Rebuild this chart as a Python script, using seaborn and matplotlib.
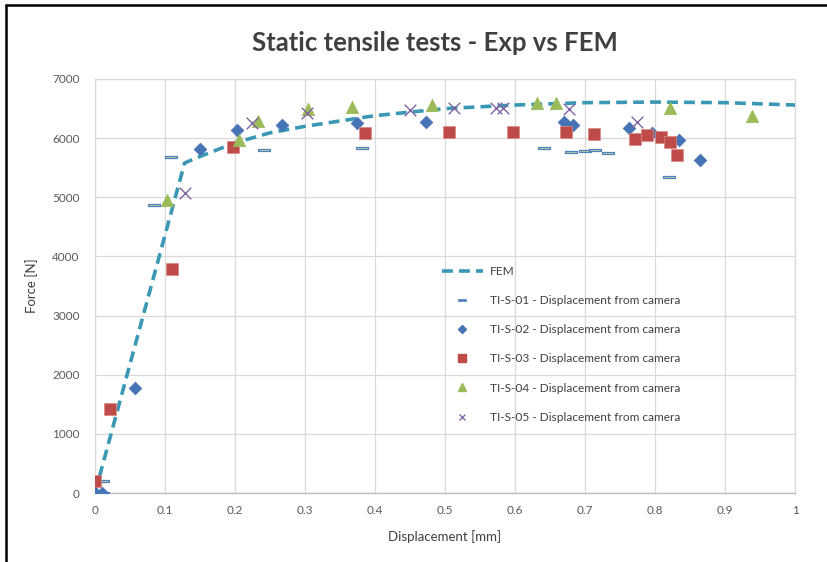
import matplotlib
matplotlib.use("Agg")
import matplotlib.pyplot as plt
import seaborn as sns
from matplotlib.lines import Line2D

# FEM force-displacement curve
fem_x = [0.0, 0.128, 0.15, 0.2, 0.25, 0.3, 0.4, 0.5, 0.6, 0.7, 0.8, 0.9, 1.0]
fem_y = [0, 5580, 5690, 5920, 6090, 6200, 6380, 6500, 6560, 6600, 6610, 6600, 6560]

# Experimental series (displacement from camera)
s01_x = [0.011, 0.011, 0.084, 0.108, 0.241, 0.382, 0.641, 0.680, 0.700, 0.714, 0.733, 0.820]
s01_y = [0, 200, 4870, 5680, 5800, 5830, 5830, 5770, 5780, 5800, 5750, 5340]

s02_x = [0.0, 0.010, 0.057, 0.150, 0.203, 0.267, 0.374, 0.473, 0.670, 0.683, 0.763, 0.795, 0.834, 0.864]
s02_y = [0, 0, 1775, 5815, 6140, 6220, 6250, 6270, 6270, 6220, 6170, 6090, 5970, 5630]

s03_x = [0.0, 0.022, 0.110, 0.197, 0.385, 0.506, 0.597, 0.673, 0.713, 0.771, 0.788, 0.808, 0.821, 0.831]
s03_y = [200, 1420, 3790, 5850, 6090, 6105, 6100, 6100, 6070, 5985, 6050, 6020, 5935, 5715]

s04_x = [0.103, 0.206, 0.233, 0.304, 0.367, 0.481, 0.631, 0.659, 0.821, 0.939]
s04_y = [4950, 5970, 6290, 6490, 6530, 6560, 6590, 6590, 6510, 6375]

s05_x = [0.129, 0.224, 0.303, 0.450, 0.513, 0.573, 0.583, 0.677, 0.774]
s05_y = [5070, 6250, 6420, 6475, 6510, 6510, 6510, 6490, 6270]

x_ticks = [0, 0.1, 0.2, 0.3, 0.4, 0.5, 0.6, 0.7, 0.8, 0.9, 1]
x_tick_labels = ["0", "0.1", "0.2", "0.3", "0.4", "0.5", "0.6", "0.7", "0.8", "0.9", "1"]
y_ticks = [0, 1000, 2000, 3000, 4000, 5000, 6000, 7000]

label_fem = "FEM"
labels_exp = [
    "TI-S-01 - Displacement from camera",
    "TI-S-02 - Displacement from camera",
    "TI-S-03 - Displacement from camera",
    "TI-S-04 - Displacement from camera",
    "TI-S-05 - Displacement from camera",
]

c_fem = "#3A98B4"
c01_edge, c01_face = "#4F81BD", "#C9DB9E"
c02 = "#4673B5"
c03 = "#BE4B48"
c04 = "#9BBB59"
c05 = "#8064A2"
text_c = "#404040"
tick_c = "#595959"

sns.set_theme(style="white")
plt.rcParams["font.family"] = ["Lato", "DejaVu Sans"]

W, H = 827, 562
fig = plt.figure(figsize=(W / 100, H / 100), dpi=100)
ax = fig.add_axes([95 / W, 1 - 493 / H, 700 / W, 414 / H])

dash_marker = [(-1, -0.24), (1, -0.24), (1, 0.24), (-1, 0.24), (-1, -0.24)]
fem_ls = (0, (3.0, 1.7))

sns.lineplot(x=fem_x, y=fem_y, ax=ax, color=c_fem, lw=2.6, linestyle=fem_ls,
             zorder=3, legend=False)
sns.scatterplot(x=s01_x, y=s01_y, ax=ax, marker=dash_marker, s=80,
                color=c01_face, edgecolor=c01_edge, linewidth=0.9, zorder=4, legend=False)
sns.scatterplot(x=s02_x, y=s02_y, ax=ax, marker="D", s=42,
                color=c02, edgecolor=c02, linewidth=0.5, zorder=5, legend=False)
sns.scatterplot(x=s03_x, y=s03_y, ax=ax, marker="s", s=80,
                color=c03, edgecolor="#D88A88", linewidth=0.5, zorder=6, legend=False)
sns.scatterplot(x=s04_x, y=s04_y, ax=ax, marker="^", s=80,
                color=c04, edgecolor=c04, linewidth=0.5, zorder=7, legend=False)
sns.scatterplot(x=s05_x, y=s05_y, ax=ax, marker="x", s=70,
                color=c05, linewidth=1.0, zorder=8, legend=False)

ax.set_xlim(0, 1)
ax.set_ylim(0, 7000)
ax.set_xticks(x_ticks)
ax.set_xticklabels(x_tick_labels)
ax.set_yticks(y_ticks)
ax.grid(True, color="#D9D9D9", lw=0.9)
ax.set_axisbelow(True)
for side in ["top", "right", "left"]:
    ax.spines[side].set_color("#D9D9D9")
    ax.spines[side].set_linewidth(0.9)
ax.spines["bottom"].set_color("#BFBFBF")
ax.spines["bottom"].set_linewidth(1.0)
ax.tick_params(axis="both", length=0, labelsize=8.5, labelcolor=tick_c)
ax.tick_params(axis="y", pad=11)
ax.tick_params(axis="x", pad=9)

ax.set_xlabel("Displacement [mm]", fontsize=9.5, color=text_c, labelpad=10)
ax.set_ylabel("Force [N]", fontsize=9.5, color=text_c, labelpad=10)

fig.text(435 / W, 1 - 43 / H, "Static tensile tests - Exp vs FEM", ha="center", va="center",
         fontsize=18.5, fontweight="bold", color=text_c)

handles = [
    Line2D([], [], color=c_fem, lw=2.6, linestyle=fem_ls),
    Line2D([], [], ls="none", marker=dash_marker, markersize=6,
           markerfacecolor=c01_edge, markeredgecolor=c01_edge, markeredgewidth=0.5),
    Line2D([], [], ls="none", marker="D", markersize=4.5, color=c02),
    Line2D([], [], ls="none", marker="s", markersize=6, color=c03),
    Line2D([], [], ls="none", marker="^", markersize=6, color=c04),
    Line2D([], [], ls="none", marker="x", markersize=5, color=c05, markeredgewidth=0.9),
]
leg = ax.legend(handles, [label_fem] + labels_exp, frameon=False, loc="upper left",
                bbox_to_anchor=(442 / W, 1 - 266 / H), bbox_transform=fig.transFigure,
                fontsize=8.6, handlelength=3.4, handletextpad=0.6, labelspacing=1.52,
                borderpad=0, borderaxespad=0)
for t in leg.get_texts():
    t.set_color(text_c)

# black frame on the top and left edges
fig.add_artist(Line2D([6 / W, 1], [1 - 5 / H, 1 - 5 / H], transform=fig.transFigure,
                      color="black", lw=1.8))
fig.add_artist(Line2D([6 / W, 6 / W], [0, 1 - 5 / H], transform=fig.transFigure,
                      color="black", lw=1.8))

fig.savefig("out.png", dpi=100)
